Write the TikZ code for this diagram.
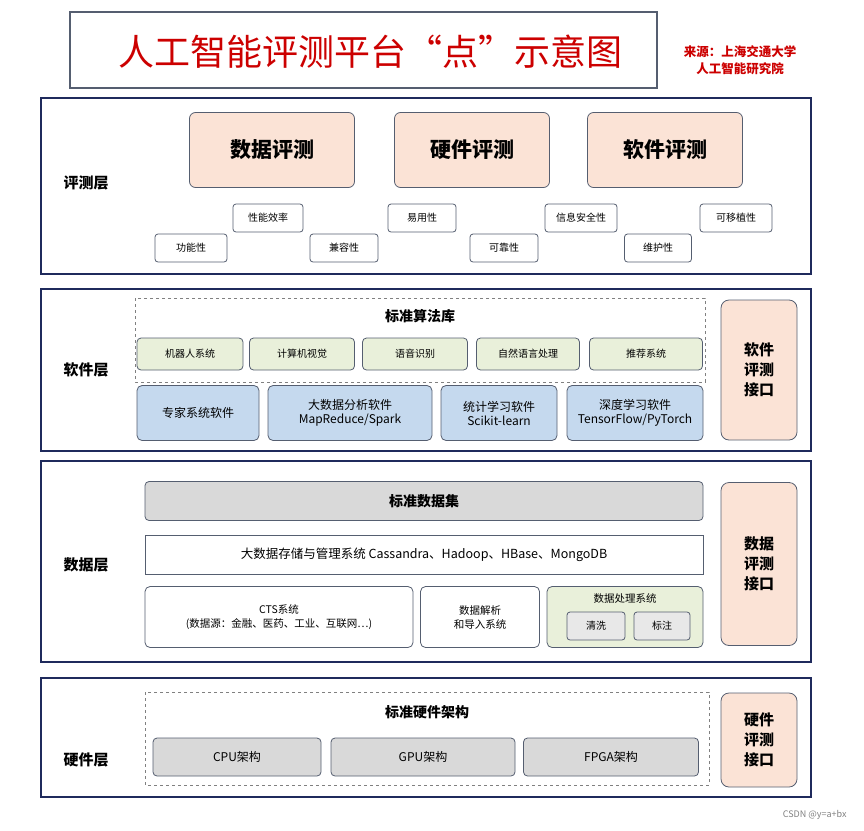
\documentclass[tikz,border=0pt]{standalone}
\usepackage{fontspec}
\setmainfont{Noto Sans CJK SC}
\usepackage{tikz}
\usetikzlibrary{
  positioning, % for relative placement of labels
}
\definecolor{navy}{HTML}{1F2A5C}
\definecolor{peach}{HTML}{FBE3D6}
\definecolor{algo}{HTML}{E9F0DA}
\definecolor{soft}{HTML}{C5D9EE}
\definecolor{dset}{HTML}{D9D9D9}
\definecolor{edge}{HTML}{555E70}
\tikzset{
  layer/.style={ % style for each layer frame
    draw=navy,line width=1.6pt,
  },
  evalbox/.style={ % big evaluation boxes
    draw=edge,thick,rounded corners=6pt,fill=peach,
    font=\bfseries\fontsize{21}{23}\selectfont,
  },
  attr/.style={ % small quality attribute boxes
    draw=edge,thick,rounded corners=3pt,fill=white,
    font=\fontsize{10}{11}\selectfont,
  },
  algobox/.style={ % algorithm library items
    draw=edge,thick,rounded corners=4pt,fill=algo,
    font=\fontsize{10}{11}\selectfont,
  },
  softbox/.style={ % software items
    draw=edge,thick,rounded corners=5pt,fill=soft,
    font=\fontsize{12}{14}\selectfont,align=center,
  },
  plain/.style={ % white data boxes
    draw=edge,thick,rounded corners=5pt,fill=white,
    font=\fontsize{10.5}{14}\selectfont,align=center,
  },
  iface/.style={ % interface boxes at the right
    draw=edge,thick,rounded corners=8pt,fill=peach,
    font=\bfseries\fontsize{15}{20}\selectfont,align=center,
  },
  lname/.style={ % layer names
    font=\bfseries\fontsize{15}{17}\selectfont,
  },
  group/.style={ % dashed groups
    draw=gray,thick,dashed,
  },
  heading/.style={ % group headings
    font=\bfseries\fontsize{14}{16}\selectfont,
  },
}
\begin{document}
\begin{tikzpicture}[x=1pt,y=-1pt]
  \useasboundingbox (0,0) rectangle (864,830);
  % title
  \draw[draw=edge,line width=1.2pt] (70,12) rectangle (657,88);
  \node[text=red!80!black,font=\fontsize{36}{40}\selectfont] (title) at (370,52)
  {人工智能评测平台“点”示意图};
  \node[text=red!80!black,font=\bfseries\fontsize{12.5}{17}\selectfont,align=center] (src) at (740,60)
  {来源：上海交通大学\\人工智能研究院};

  % evaluation layer
  \draw[layer] (41,98) rectangle (811,274);
  \node[lname] (l1) at (86,183) {评测层};
  \node[evalbox,minimum width=165pt,minimum height=75pt] (ed) at (272,150) {数据评测};
  \node[evalbox,minimum width=155pt,minimum height=75pt] (eh) at (472,150) {硬件评测};
  \node[evalbox,minimum width=155pt,minimum height=75pt] (es) at (665,150) {软件评测};
  \node[attr,minimum width=72pt,minimum height=28pt] (a1) at (191,248) {功能性};
  \node[attr,minimum width=70pt,minimum height=28pt] (a2) at (268,218) {性能效率};
  \node[attr,minimum width=68pt,minimum height=28pt] (a3) at (344,248) {兼容性};
  \node[attr,minimum width=68pt,minimum height=28pt] (a4) at (422,218) {易用性};
  \node[attr,minimum width=68pt,minimum height=28pt] (a5) at (504,248) {可靠性};
  \node[attr,minimum width=72pt,minimum height=28pt] (a6) at (581,218) {信息安全性};
  \node[attr,minimum width=67pt,minimum height=28pt] (a7) at (658,248) {维护性};
  \node[attr,minimum width=72pt,minimum height=28pt] (a8) at (736,218) {可移植性};

  % software layer
  \draw[layer] (41,289) rectangle (811,451);
  \node[lname] (l2) at (86,370) {软件层};
  \draw[group] (135,298) rectangle (705,382);
  \node[heading] (alg) at (420,316) {标准算法库};
  \node[algobox,minimum width=106pt,minimum height=32pt] (g1) at (190,354) {机器人系统};
  \node[algobox,minimum width=105pt,minimum height=32pt] (g2) at (302,354) {计算机视觉};
  \node[algobox,minimum width=105pt,minimum height=32pt] (g3) at (415,354) {语音识别};
  \node[algobox,minimum width=103pt,minimum height=32pt] (g4) at (528,354) {自然语言处理};
  \node[algobox,minimum width=113pt,minimum height=32pt] (g5) at (646,354) {推荐系统};
  \node[softbox,minimum width=122pt,minimum height=55pt] (s1) at (198,413) {专家系统软件};
  \node[softbox,minimum width=164pt,minimum height=55pt] (s2) at (350,413) {大数据分析软件\\MapReduce/Spark};
  \node[softbox,minimum width=116pt,minimum height=55pt] (s3) at (499,413) {统计学习软件\\Scikit-learn};
  \node[softbox,minimum width=136pt,minimum height=55pt,inner sep=1pt] (s4) at (635,413) {深度学习软件\\TensorFlow/PyTorch};
  \node[iface,minimum width=76pt,minimum height=140pt] (i1) at (759,370) {软件\\评测\\接口};

  % data layer
  \draw[layer] (41,461) rectangle (811,662);
  \node[lname] (l3) at (86,565) {数据层};
  \node[draw=edge,thick,rounded corners=4pt,fill=dset,minimum width=558pt,minimum height=39pt,heading] (d1) at (424,501) {标准数据集};
  \node[draw=edge,thick,fill=white,minimum width=558pt,minimum height=39pt,font=\fontsize{12.5}{14}\selectfont] (d2) at (424,555)
  {大数据存储与管理系统 Cassandra、Hadoop、HBase、MongoDB};
  \node[plain,minimum width=268pt,minimum height=61pt] (d3) at (279,617) {CTS系统\\(数据源：金融、医药、工业、互联网…)};
  \node[plain,minimum width=119pt,minimum height=61pt] (d4) at (480,617) {数据解析\\和导入系统};
  \node[plain,fill=algo,minimum width=156pt,minimum height=61pt] (d5) at (625,617) {};
  \node[font=\fontsize{10.5}{12}\selectfont] (d5t) at (625,598) {数据处理系统};
  \node[attr,fill=dset!60,minimum width=58pt,minimum height=28pt] (c1) at (596,626) {清洗};
  \node[attr,fill=dset!60,minimum width=56pt,minimum height=28pt] (c2) at (662,626) {标注};
  \node[iface,minimum width=76pt,minimum height=163pt] (i2) at (759,564) {数据\\评测\\接口};

  % hardware layer
  \draw[layer] (41,678) rectangle (811,797);
  \node[lname] (l4) at (86,760) {硬件层};
  \draw[group] (145,692) rectangle (709,785);
  \node[heading] (hw) at (427,712) {标准硬件架构};
  \node[algobox,fill=dset,minimum width=168pt,minimum height=38pt,font=\fontsize{12}{14}\selectfont] (h1) at (237,757) {CPU架构};
  \node[algobox,fill=dset,minimum width=184pt,minimum height=38pt,font=\fontsize{12}{14}\selectfont] (h2) at (423,757) {GPU架构};
  \node[algobox,fill=dset,minimum width=175pt,minimum height=38pt,font=\fontsize{12}{14}\selectfont] (h3) at (611,757) {FPGA架构};
  \node[iface,minimum width=76pt,minimum height=94pt] (i3) at (759,740) {硬件\\评测\\接口};

  \node[text=gray,font=\fontsize{9}{10}\selectfont,anchor=east] (mark) at (850,815) {CSDN @y=a+bx};
\end{tikzpicture}
\end{document}
